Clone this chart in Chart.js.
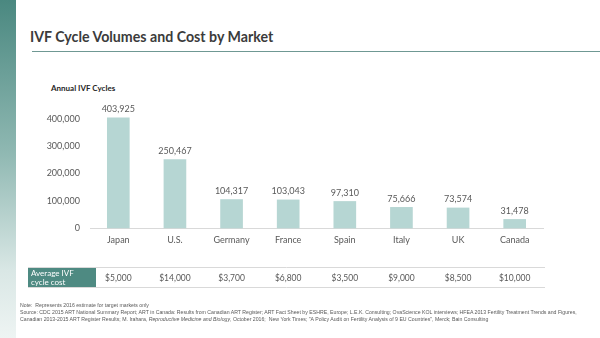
<!DOCTYPE html>
<html>
<head>
<meta charset="utf-8">
<script src="https://cdn.jsdelivr.net/npm/chart.js@4.4.1/dist/chart.umd.min.js"></script>
<style>
  html, body { margin: 0; padding: 0; background: #ffffff; }
  body { width: 600px; height: 338px; position: relative; overflow: hidden; font-family: Lato, "Open Sans", sans-serif; }
  #sidebar { position: absolute; left: 0; top: 0; width: 16px; height: 338px;
    background: linear-gradient(to bottom, #4a8880 0%, #8fb8b2 45%, #d9e7e5 80%, #eef4f3 100%); }
  #title { position: absolute; left: 30px; top: 28px; font-size: 14.2px; font-weight: bold; color: #3b3b3b; white-space: nowrap; }
  #rule { position: absolute; left: 32px; top: 51px; width: 568px; height: 1px; background: #6f9893; }
  #ytitle { position: absolute; left: 51px; top: 83px; font-size: 8px; font-weight: bold; color: #262626; }
  #notes { position: absolute; left: 20px; top: 302px; font-size: 5.2px; line-height: 7px; color: #595959; white-space: nowrap; font-family: "Liberation Sans Narrow", "Liberation Sans", sans-serif; }
  canvas { position: absolute; left: 0; top: 0; }
</style>
</head>
<body>
<div id="sidebar"></div>
<div id="title">IVF Cycle Volumes and Cost by Market</div>
<div id="rule"></div>
<div id="ytitle">Annual IVF Cycles</div>
<canvas id="c" width="600" height="338"></canvas>
<div id="notes">
Note:&nbsp; Represents 2016 estimate for target markets only<br>
Source: CDC 2015 ART National Summary Report; ART in Canada: Results from Canadian ART Register; ART Fact Sheet by ESHRE, Europe; L.E.K. Consulting; OvaScience KOL interviews; HFEA 2013 Fertility Treatment Trends and Figures,<br>
Canadian 2013-2015 ART Register Results; M. Irahara, <i>Reproductive Medicine and Biology</i>, October 2016;&nbsp; New York Times; "A Policy Audit on Fertility Analysis of 9 EU Countries", Merck; Bain Consulting
</div>
<script>
const categories = ["Japan", "U.S.", "Germany", "France", "Spain", "Italy", "UK", "Canada"];
const annualCycles = [403925, 250467, 104317, 103043, 97310, 75666, 73574, 31478];
const avgCycleCost = ["$5,000", "$14,000", "$3,700", "$6,800", "$3,500", "$9,000", "$8,500", "$10,000"];
const yTicks = [0, 100000, 200000, 300000, 400000];
const tableHeader = ["Average IVF", "cycle cost"];

const FONT = 'Lato, "Open Sans", sans-serif';
const fmt = v => v.toLocaleString('en-US');

const overlay = {
  id: 'overlay',
  afterDatasetsDraw(chart) {
    const ctx = chart.ctx;
    const meta = chart.getDatasetMeta(0);
    ctx.save();
    ctx.font = '9px ' + FONT;
    ctx.fillStyle = '#595959';
    ctx.textAlign = 'center';
    ctx.textBaseline = 'bottom';
    meta.data.forEach((bar, i) => {
      ctx.fillText(fmt(annualCycles[i]), bar.x, bar.y - 4);
    });
    // table row
    const xs = chart.scales.x;
    const top = 267, bot = 287;
    ctx.strokeStyle = '#d9d9d9';
    ctx.lineWidth = 1;
    ctx.beginPath();
    ctx.moveTo(28, top + 0.5); ctx.lineTo(545, top + 0.5);
    ctx.moveTo(28, bot + 0.5); ctx.lineTo(545, bot + 0.5);
    ctx.stroke();
    ctx.fillStyle = '#4e8a82';
    ctx.fillRect(28, top + 1, 68, bot - top - 1);
    ctx.fillStyle = '#ffffff';
    ctx.font = '8px ' + FONT;
    ctx.textAlign = 'left';
    ctx.textBaseline = 'middle';
    ctx.fillText(tableHeader[0], 31, top + 6);
    ctx.fillText(tableHeader[1], 31, top + 15);
    ctx.fillStyle = '#595959';
    ctx.font = '8.5px ' + FONT;
    ctx.textAlign = 'center';
    categories.forEach((c, i) => {
      ctx.fillText(avgCycleCost[i], xs.getPixelForValue(i), (top + bot) / 2 + 1);
    });
    ctx.restore();
  }
};

new Chart(document.getElementById('c'), {
  type: 'bar',
  data: {
    labels: categories,
    datasets: [{
      data: annualCycles,
      backgroundColor: '#b6d6d3',
      barThickness: 22,
      clip: false
    }]
  },
  options: {
    responsive: false,
    animation: false,
    layout: { padding: { left: 30, right: 57, top: 108, bottom: 90 } },
    plugins: { legend: { display: false }, tooltip: { enabled: false } },
    scales: {
      x: {
        grid: { display: false, drawTicks: false },
        border: { display: true, color: '#d9d9d9' },
        ticks: { color: '#595959', font: { family: FONT, size: 9 }, padding: 7 },
        afterFit(s) { s.height = 20; }
      },
      y: {
        min: 0, max: 440000,
        grid: { display: false, drawTicks: false },
        border: { display: false },
        ticks: { stepSize: 100000, color: '#595959', font: { family: FONT, size: 9 }, padding: 10,
          callback: v => fmt(v) },
        afterBuildTicks(s) { s.ticks = yTicks.map(v => ({ value: v })); },
        afterFit(s) { s.width = 60; }
      }
    }
  },
  plugins: [overlay]
});
</script>
</body>
</html>
